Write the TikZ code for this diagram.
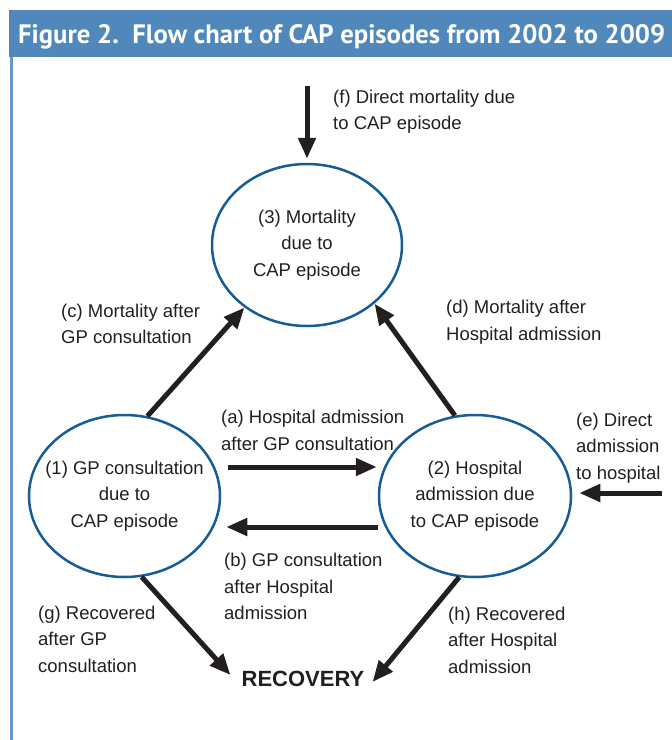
\documentclass[tikz,border=0pt]{standalone}
\usepackage{fontspec}
\setmainfont{Liberation Sans}
\newfontfamily\headfont{PT Sans}
\usetikzlibrary{arrows.meta,shapes.geometric,calc}
\definecolor{hdr}{RGB}{80,136,187}
\definecolor{bord}{RGB}{105,150,200}
\definecolor{ellc}{RGB}{22,92,150}
\definecolor{txt}{RGB}{35,31,32}
\newcommand{\lblfont}{\fontsize{18.5}{26.5}\selectfont}
\newcommand{\recfont}{\fontsize{22}{26}\selectfont\bfseries}
\tikzset{
  state/.style={ellipse, draw=ellc, line width=2.5pt, align=center, inner xsep=-25pt, inner ysep=0pt, font=\lblfont, text=txt},
  lbl/.style={anchor=west, align=left, inner sep=0pt, font=\lblfont, text=txt},
  arr/.style={draw=txt, line width=5pt, -{Triangle[length=21pt,width=17pt]}}
}
\begin{document}
\begin{tikzpicture}[x=1pt,y=-1pt]
\useasboundingbox (0,0) rectangle (672,740);
% header
\fill[hdr] (9,10) rectangle (672,57);
\node[anchor=base west, inner sep=0pt, text=white] (title) at (18,43) {\resizebox{647pt}{!}{\headfont\bfseries Figure 2.\ \ Flow chart of CAP episodes from 2002 to 2009}};
\draw[bord, line width=3pt] (11,57) -- (11,740);
% states
\node[state, minimum width=191pt, minimum height=162pt] (e1) at (124.5,496) {(1) GP consultation\\due to\\CAP episode};
\node[state, minimum width=192pt, minimum height=162pt] (e2) at (475,496) {(2) Hospital\\admission due\\to CAP episode};
\node[state, minimum width=190pt, minimum height=162pt] (e3) at (307,245) {(3) Mortality\\due to\\CAP episode};
\node[font=\recfont, text=txt, inner sep=6pt] (rec) at (303,679) {RECOVERY};
% free ends
\coordinate (fIn) at (307,86);
\coordinate (eIn) at (662,493);
% arrows
\draw[arr] (fIn) -- ([yshift=4pt]e3.north);
\draw[arr] (e1.74.5) -- (e3.225.5);
\draw[arr] (e2.104.5) -- (e3.319);
\draw[arr] ([xshift=7pt,yshift=29pt]e1.east) -- ([xshift=-1pt,yshift=29pt]e2.west);
\draw[arr] ([yshift=-31pt]e2.west) -- ([xshift=5pt,yshift=-31pt]e1.east);
\draw[arr] (eIn) -- ([xshift=7pt,yshift=3pt]e2.east);
\draw[arr] (e1.282.2) -- ([xshift=-5pt,yshift=4pt]rec.west);
\draw[arr] (e2.259.8) -- ([xshift=2pt,yshift=-3pt]rec.east);
% labels
\node[lbl] (lf) at (333,111.5) {(f) Direct mortality due\\to CAP episode};
\node[lbl] (lc) at (61,324) {(c) Mortality after\\GP consultation};
\node[lbl] (ld) at (446,322) {(d) Mortality after\\Hospital admission};
\node[lbl] (la) at (221,430.5) {(a) Hospital admission\\after GP consultation};
\node[lbl] (le) at (576,448) {(e) Direct\\admission\\to hospital};
\node[lbl] (lb) at (224,586.5) {(b) GP consultation\\after Hospital\\admission};
\node[lbl] (lg) at (38,639) {(g) Recovered\\after GP\\consultation};
\node[lbl] (lh) at (448,640) {(h) Recovered\\after Hospital\\admission};
\end{tikzpicture}
\end{document}
